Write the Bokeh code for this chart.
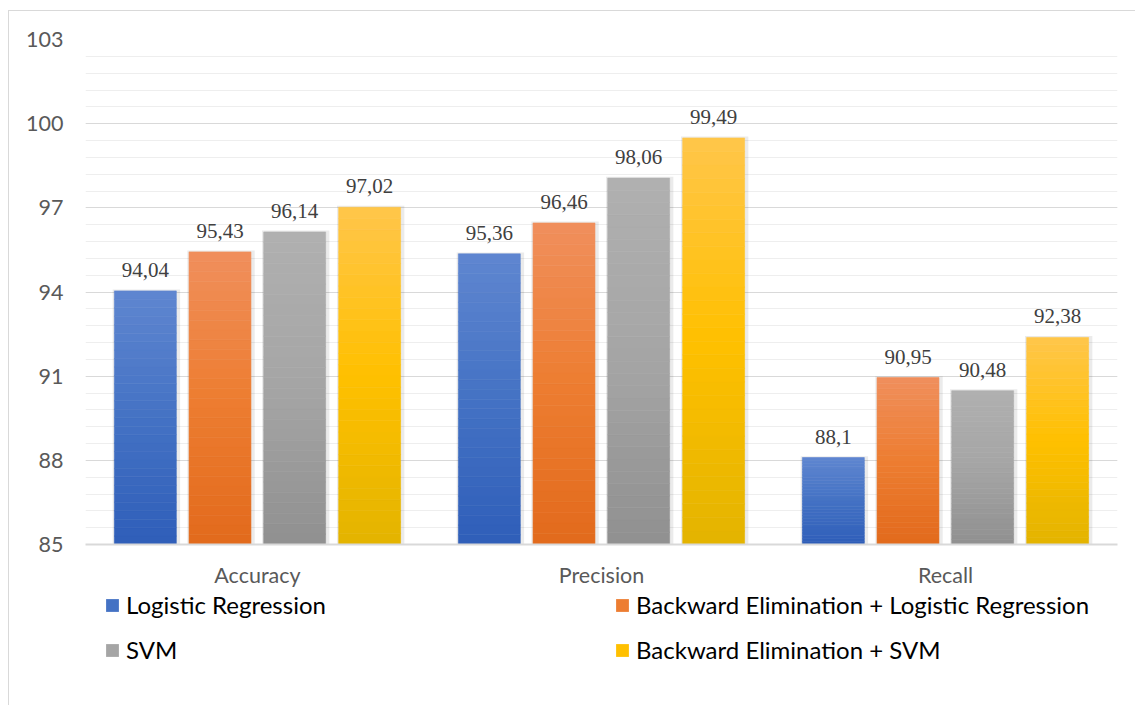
from bokeh.plotting import figure
from bokeh.layouts import column
from bokeh.models import (ColumnDataSource, FactorRange, Range1d, FixedTicker,
                          Legend, LegendItem, LabelSet)
from bokeh.transform import dodge
from bokeh.embed import file_html
from bokeh.resources import INLINE

metrics = ["Accuracy", "Precision", "Recall"]
series_names = ["Logistic Regression", "Backward Elimination + Logistic Regression",
                "SVM", "Backward Elimination + SVM"]
logistic = [94.04, 95.36, 88.1]
be_logistic = [95.43, 96.46, 90.95]
svm = [96.14, 98.06, 90.48]
be_svm = [97.02, 99.49, 92.38]
series_values = [logistic, be_logistic, svm, be_svm]
y_ticks = [85, 88, 91, 94, 97, 100, 103]

# gradient stops: (bottom, middle, top)
gradients = [
    ("#2f5eb9", "#4472c4", "#5f86d0"),
    ("#e26a1c", "#ed7d31", "#f08f5c"),
    ("#909090", "#a5a5a5", "#b0b0b0"),
    ("#e3b400", "#ffc000", "#ffc64a"),
]
offsets = [-0.326, -0.109, 0.108, 0.326]
BAR_W = 0.18
Y0, Y1 = y_ticks[0], y_ticks[-1]
N = 30
W = 1126


def hex2rgb(h):
    h = h.lstrip("#")
    return tuple(int(h[i:i + 2], 16) for i in (0, 2, 4))


def mix(c1, c2, t):
    a, b = hex2rgb(c1), hex2rgb(c2)
    return "#%02x%02x%02x" % tuple(round(a[i] + (b[i] - a[i]) * t) for i in range(3))


def grad_color(stops, f):
    lo, mid, hi = stops
    if f < 0.5:
        return mix(lo, mid, f / 0.5)
    return mix(mid, hi, (f - 0.5) / 0.5)


p = figure(x_range=FactorRange(factors=metrics, range_padding=0),
           y_range=Range1d(Y0, Y1),
           width=W, height=580, output_backend="svg", toolbar_location=None,
           min_border_left=76, min_border_right=18, min_border_top=28, min_border_bottom=47)
p.outline_line_color = None
p.background_fill_color = "white"
p.border_fill_color = "white"

# axes
minor = [y_ticks[0] + 0.6 * k for k in range(int((Y1 - Y0) / 0.6) + 1)]
p.yaxis.ticker = FixedTicker(ticks=y_ticks, minor_ticks=minor)
p.yaxis.axis_line_color = None
p.yaxis.major_tick_line_color = None
p.yaxis.minor_tick_line_color = None
p.yaxis.major_tick_out = 0
p.yaxis.minor_tick_out = 0
p.yaxis.major_label_text_font = "Lato"
p.yaxis.major_label_text_font_size = "21.5px"
p.yaxis.major_label_text_color = "#595959"
p.yaxis.major_label_standoff = 22

p.xaxis.axis_line_color = "#d9d9d9"
p.xaxis.axis_line_width = 2
p.xaxis.major_tick_line_color = None
p.xaxis.minor_tick_line_color = None
p.xaxis.major_tick_out = 0
p.xaxis.minor_tick_out = 0
p.xaxis.major_label_text_font = "Lato"
p.xaxis.major_label_text_font_size = "21.5px"
p.xaxis.major_label_text_color = "#595959"
p.xaxis.major_label_standoff = 17

p.xgrid.grid_line_color = None
p.ygrid.grid_line_color = "#d9d9d9"
p.ygrid.grid_line_width = 1
p.ygrid.minor_grid_line_color = "#eeeeee"
p.ygrid.minor_grid_line_width = 1

# legend figure (separate strip below the chart)
lf = figure(width=W, height=114, output_backend="svg", toolbar_location=None,
            x_range=Range1d(0, 1), y_range=Range1d(0, 1),
            x_axis_location=None, y_axis_location=None,
            min_border_left=0, min_border_right=0, min_border_top=0, min_border_bottom=0)
lf.outline_line_color = None
lf.grid.grid_line_color = None
lf.border_fill_color = "white"

legend_items = {}
for si, (name, vals, stops, off) in enumerate(zip(series_names, series_values, gradients, offsets)):
    # soft shadow
    sh = ColumnDataSource(dict(x=metrics, top=[v + 0.05 for v in vals]))
    p.vbar(x=dodge("x", off + 0.003, range=p.x_range), top="top", bottom=Y0, width=BAR_W + 0.016,
           source=sh, fill_color="#000000", fill_alpha=0.08, line_color=None)
    xs, bots, tops, cols = [], [], [], []
    for m, v in zip(metrics, vals):
        for k in range(N):
            xs.append(m)
            bots.append(Y0 + (v - Y0) * k / N)
            tops.append(Y0 + (v - Y0) * (k + 1) / N)
            cols.append(grad_color(stops, (k + 0.5) / N))
    src = ColumnDataSource(dict(x=xs, bottom=bots, top=tops, color=cols))
    p.vbar(x=dodge("x", off, range=p.x_range), top="top", bottom="bottom", width=BAR_W,
           source=src, fill_color="color", line_color="color", line_width=0.6)

    lab = ColumnDataSource(dict(x=metrics, y=vals,
                                text=[("%g" % v).replace(".", ",") for v in vals]))
    p.add_layout(LabelSet(x=dodge("x", off, range=p.x_range), y="y", text="text", source=lab,
                          text_align="center", text_baseline="bottom", y_offset=14,
                          text_font="Liberation Serif", text_font_size="21px",
                          text_color="#404040"))

    # invisible stand-in glyph for the legend swatch
    dummy = ColumnDataSource(dict(x=[0.5], top=[0.5], bottom=[0.5]))
    r = lf.vbar(x="x", top="top", bottom="bottom", width=0.0, source=dummy,
                fill_color=stops[1], line_color=None)
    legend_items[name] = LegendItem(label=name, renderers=[r])

# Bokeh fills legend columns top-to-bottom; order so rows read like the reference
order = [series_names[0], series_names[2], series_names[1], series_names[3]]
legend = Legend(items=[legend_items[n] for n in order], ncols=2, location=(19, 41),
                glyph_width=16, glyph_height=16, label_height=29, label_width=472,
                label_standoff=6, spacing=16, padding=0, margin=0,
                label_text_font="Lato", label_text_font_size="24px", label_text_color="#000000",
                background_fill_alpha=0, border_line_color=None)
lf.add_layout(legend, "center")

layout = column(p, lf, spacing=0)
layout.styles = {"border-left": "1px solid #d9d9d9", "border-top": "1px solid #d9d9d9",
                 "margin-left": "8px", "margin-top": "10px"}

open("out.html", "w").write(file_html(layout, INLINE))
